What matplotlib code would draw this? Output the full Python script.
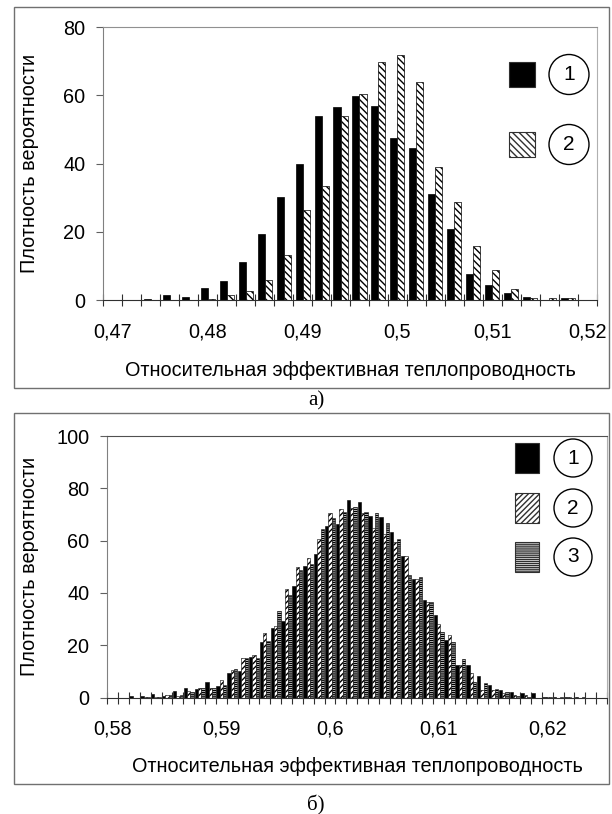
import numpy as np
import matplotlib
matplotlib.use("Agg")
import matplotlib.pyplot as plt
from matplotlib.patches import Rectangle, Ellipse

plt.rcParams['font.family'] = ['Liberation Sans', 'DejaVu Sans']
plt.rcParams['hatch.linewidth'] = 1.0

# --- data: chart a) ---
a_bins = np.round(0.47 + 0.002 * np.arange(26), 3)
a_s1 = [0, 0, 0.2, 1.5, 1.0, 3.6, 5.6, 11.2, 19.3, 30.2, 40.0, 54.0, 56.7,
        59.7, 57.0, 47.6, 44.7, 31.0, 20.7, 7.6, 4.5, 2.0, 0.8, 0, 0.5, 0]
a_s2 = [0, 0, 0, 0.1, 0, 0.3, 1.4, 2.6, 5.9, 13.3, 26.3, 33.4, 54.0,
        60.5, 69.8, 71.8, 63.9, 39.0, 28.8, 15.8, 8.8, 3.1, 0.6, 0.5, 0.5, 0]
a_labels = ['0,47', '0,48', '0,49', '0,5', '0,51', '0,52']

# --- data: chart б) ---
b_bins = np.round(0.58 + 0.001 * np.arange(46), 3)
b_s1 = [0, 0, 0.5, 0.6, 1.15, 0.5, 2.4, 3.7, 3.3, 5.9, 4.3, 9.2, 10.3, 15.4,
        21.3, 26.6, 29.3, 42.6, 50.3, 54.9, 65.6, 66.3, 75.5, 74.6, 69.4, 68.9,
        63.2, 54.2, 45.3, 37.3, 31.5, 21.9, 12.6, 12.3, 8.1, 4.9, 2.7, 2.0,
        1.8, 1.8, 0.2, 0.3, 0.2, 0.1, 0, 0]
b_s2 = [0, 0, 0, 0.25, 0.3, 1.1, 0.6, 2.3, 3.7, 3.8, 6.6, 10.4, 15.2, 16.4,
        24.5, 27.3, 41.4, 49.8, 53.2, 60.5, 70.4, 72.0, 72.3, 70.4, 64.7, 62.5,
        59.6, 54.1, 45.3, 36.6, 28.1, 23.8, 12.6, 9.4, 3.0, 2.7, 1.7, 0.8,
        0.8, 0, 0.1, 0, 0.2, 0, 0, 0]
b_s3 = [0, 0, 0, 0.25, 0.3, 0.9, 0.9, 2.0, 3.8, 3.8, 4.7, 10.8, 15.2, 15.2,
        21.7, 33.2, 39.2, 48.8, 51.0, 64.3, 68.5, 71.1, 73.0, 70.8, 70.4, 66.6,
        60.5, 46.8, 46.0, 36.4, 24.9, 21.2, 14.9, 5.9, 5.5, 3.3, 2.0, 0.6,
        0.3, 0, 0.2, 0.2, 0, 0.1, 0, 0]
b_labels = ['0,58', '0,59', '0,6', '0,61', '0,62']

ylabel = 'Плотность вероятности'
xlabel = 'Относительная эффективная теплопроводность'
W, H = 612, 814
FS = 14.3

fig = plt.figure(figsize=(6.12, 8.14), dpi=100)


def px(x0, y0, x1, y1):
    # pixel box -> figure fraction [left, bottom, width, height]
    return [x0 / W, 1 - y1 / H, (x1 - x0) / W, (y1 - y0) / H]


def style_axes(ax, step, bins, labels, ymax, ylab_x, xlab_y):
    half = step / 2
    ax.set_xlim(bins[0] - half, bins[-1] + half)
    ax.set_ylim(0, ymax)
    edges = np.append(bins - half, bins[-1] + half)
    ax.set_xticks(edges)
    ax.set_xticklabels([])
    ax.set_xticks([float(l.replace(',', '.')) for l in labels], minor=True)
    ax.set_xticklabels(labels, minor=True)
    ax.tick_params(axis='x', which='major', direction='inout', length=9,
                   width=0.8, color='#303030')
    ax.tick_params(axis='x', which='minor', length=0, pad=16, labelsize=FS)
    ax.set_yticks(np.arange(0, ymax + 1, 20))
    ax.tick_params(axis='y', direction='out', length=5, width=0.8,
                   color='#606060', pad=8, labelsize=FS)
    ax.spines['left'].set_color('#808080')
    ax.spines['bottom'].set_color('#303030')
    ax.spines['right'].set_color('#b0b0b0')
    ax.spines['top'].set_color('#909090')
    ax.set_ylabel(ylabel, fontsize=FS, va='center')
    ax.yaxis.set_label_coords(ylab_x, 0.5)
    ax.set_xlabel(xlabel, fontsize=FS, va='center')
    ax.xaxis.set_label_coords(0.5, xlab_y)


def legend_item(x, y, w, h, hatch, face, num, r=20):
    fig.add_artist(Rectangle((x / W, 1 - (y + h) / H), w / W, h / H,
                             transform=fig.transFigure, facecolor=face,
                             edgecolor='#303030', hatch=hatch, lw=0.8))
    cx, cy = x + w + 34, y + h / 2
    fig.add_artist(Ellipse((cx / W, 1 - cy / H), 2 * r / W, 2 * r / H,
                           transform=fig.transFigure, facecolor='white',
                           edgecolor='black', lw=1.0))
    fig.text(cx / W, 1 - cy / H, num, ha='center', va='center', fontsize=15)


# outer frames
for y0, y1 in [(7, 388), (413, 784)]:
    fig.add_artist(Rectangle((14 / W, 1 - y1 / H), (609 - 14) / W, (y1 - y0) / H,
                             transform=fig.transFigure, fill=False,
                             edgecolor='#707070', lw=1.0))

# chart a)
ax1 = fig.add_axes(px(103.3, 27.3, 596.7, 300))
wa = 0.002 * 0.37
ax1.bar(a_bins - wa / 2, a_s1, width=wa, color='black', edgecolor='black', lw=0.5)
ax1.bar(a_bins + wa / 2, a_s2, width=wa, color='white', edgecolor='black',
        hatch='\\\\\\\\\\', lw=0.5)
style_axes(ax1, 0.002, a_bins, a_labels, 80, (30 - 103.3) / 493.4, (300 - 370) / 272.7)
legend_item(509, 62, 26, 25, None, 'black', '1')
legend_item(509, 132, 26, 25, '\\\\\\\\\\', 'white', '2')
fig.text(316 / W, 1 - 401 / H, 'а)', ha='center', va='center', fontsize=15,
         family='Liberation Serif')

# chart б)
ax2 = fig.add_axes(px(107.3, 436, 607, 697.5))
wb = 0.001 * 0.31
ax2.bar(b_bins - wb, b_s1, width=wb, color='black', edgecolor='black', lw=0.4)
ax2.bar(b_bins, b_s2, width=wb, color='white', edgecolor='black',
        hatch='//////', lw=0.4)
ax2.bar(b_bins + wb, b_s3, width=wb, color='white', edgecolor='black',
        hatch='--------', lw=0.4)
style_axes(ax2, 0.001, b_bins, b_labels, 100, (30 - 107.3) / 499.7, (697.5 - 767) / 261.5)
ax2.spines['top'].set_color('#505050')
legend_item(515, 443, 24, 30, None, 'black', '1', r=19)
legend_item(515, 493, 24, 30, '//////', 'white', '2', r=19)
legend_item(515, 542, 24, 30, '--------', 'white', '3', r=19)
fig.text(316 / W, 1 - 805 / H, 'б)', ha='center', va='center', fontsize=15,
         family='Liberation Serif')

fig.savefig('out.png', dpi=100)
